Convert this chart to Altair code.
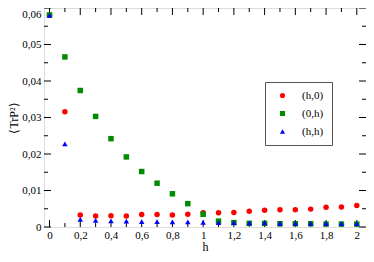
import altair as alt
import pandas as pd

h = [0.0, 0.1, 0.2, 0.3, 0.4, 0.5, 0.6, 0.7, 0.8, 0.9, 1.0,
     1.1, 1.2, 1.3, 1.4, 1.5, 1.6, 1.7, 1.8, 1.9, 2.0]
h0 = [0.0580, 0.0316, 0.0033, 0.0030, 0.0031, 0.0030, 0.0034, 0.0034, 0.0033, 0.0035, 0.0039,
      0.0039, 0.0040, 0.0043, 0.0046, 0.0047, 0.0047, 0.0049, 0.0054, 0.0055, 0.0059]
zh = [0.0581, 0.0466, 0.0374, 0.0303, 0.0242, 0.0192, 0.0152, 0.0120, 0.0091, 0.0064, 0.0035,
      0.0016, 0.0012, 0.0010, 0.0010, 0.0009, 0.0009, 0.0009, 0.0008, 0.0008, 0.0008]
hh = [0.0580, 0.0228, 0.0021, 0.0018, 0.0017, 0.0016, 0.0015, 0.0015, 0.0014, 0.0014, 0.0013,
      0.0012, 0.0012, 0.0011, 0.0011, 0.0010, 0.0010, 0.0010, 0.0010, 0.0009, 0.0009]
series = ["(h,0)", "(0,h)", "(h,h)"]
colors = ["#ff0000", "#008c00", "#0000ff"]
shapes = ["circle", "square", "triangle-up"]

x_major = [0, 0.2, 0.4, 0.6, 0.8, 1.0, 1.2, 1.4, 1.6, 1.8, 2.0]
x_minor = [0.1, 0.3, 0.5, 0.7, 0.9, 1.1, 1.3, 1.5, 1.7, 1.9]
y_major = [0, 0.01, 0.02, 0.03, 0.04, 0.05, 0.06]
y_minor = [0.005, 0.015, 0.025, 0.035, 0.045, 0.055]

W, H = 322, 219
MAJ, MIN = 7, 4
FONT = "Liberation Serif"

rows = []
for name, vals in zip(series, [h0, zh, hh]):
    for x, v in zip(h, vals):
        rows.append({"h": x, "v": v, "s": name})
df = pd.DataFrame(rows)

xs = alt.Scale(domain=[-0.036, 2.06], nice=False, zero=False)
ys = alt.Scale(domain=[0, 0.06], nice=False)

xaxis = alt.Axis(values=x_major, format=".1~f",
                 labelExpr="replace(datum.label, '.', ',')",
                 ticks=False, domain=False, grid=False,
                 labelPadding=2, labelFont=FONT, labelFontSize=11,
                 labelColor="black", titleFont=FONT, titleFontSize=12,
                 titleFontWeight="normal", titleColor="black", titlePadding=1)
yaxis = alt.Axis(values=y_major, format=".2~f",
                 labelExpr="replace(datum.label, '.', ',')",
                 labelBaseline={"condition": {"test": "datum.value >= 0.06", "value": "top"},
                                "value": "middle"},
                 ticks=False, domain=False, grid=False,
                 labelPadding=3, labelFont=FONT, labelFontSize=11,
                 labelColor="black", titleFont=FONT, titleFontSize=12,
                 titleFontWeight="normal", titleColor="black", titlePadding=1)

points = alt.Chart(df).mark_point(filled=True, size=30, opacity=1).encode(
    x=alt.X("h:Q", scale=xs, title="h", axis=xaxis),
    y=alt.Y("v:Q", scale=ys, title="⟨TrP²⟩", axis=yaxis),
    color=alt.Color("s:N", scale=alt.Scale(domain=series, range=colors),
                    legend=alt.Legend(title=None, orient="none", legendX=221, legendY=74,
                                      fillColor="white", strokeColor="#555555",
                                      padding=8, rowPadding=6, symbolSize=26,
                                      symbolOffset=4, labelOffset=14,
                                      labelFont=FONT, labelFontSize=11,
                                      labelFontWeight="normal", labelColor="black")),
    shape=alt.Shape("s:N", scale=alt.Scale(domain=series, range=shapes), legend=None),
)

xmaj = pd.DataFrame({"t": x_major})
xmin = pd.DataFrame({"t": x_minor})
ymaj = pd.DataFrame({"t": y_major})
ymin = pd.DataFrame({"t": y_minor})

def xticks(d, L):
    bot = alt.Chart(d).mark_rule(color="black", strokeWidth=1).encode(
        x=alt.X("t:Q", scale=xs, title="h", axis=xaxis), y=alt.value(H), y2=alt.value(H - L))
    top = alt.Chart(d).mark_rule(color="black", strokeWidth=1).encode(
        x=alt.X("t:Q", scale=xs, title="h", axis=xaxis), y=alt.value(0), y2=alt.value(L))
    return [bot, top]

def yticks(d, L):
    left = alt.Chart(d).mark_rule(color="black", strokeWidth=1).encode(
        y=alt.Y("t:Q", scale=ys, title="⟨TrP²⟩", axis=yaxis), x=alt.value(0), x2=alt.value(L))
    right = alt.Chart(d).mark_rule(color="black", strokeWidth=1).encode(
        y=alt.Y("t:Q", scale=ys, title="⟨TrP²⟩", axis=yaxis), x=alt.value(W), x2=alt.value(W - L))
    return [left, right]

layers = xticks(xmaj, MAJ) + xticks(xmin, MIN) + yticks(ymaj, MAJ) + yticks(ymin, MIN) + [points]

chart = alt.layer(*layers).properties(
    width=W, height=H,
    autosize=alt.AutoSizeParams(type="none"),
    padding={"left": 36, "top": 0, "right": 0, "bottom": 27},
).configure_view(stroke="black", strokeWidth=1.2).configure(background="white")

chart.save("out.html", embed_options={"renderer": "svg", "actions": False})
